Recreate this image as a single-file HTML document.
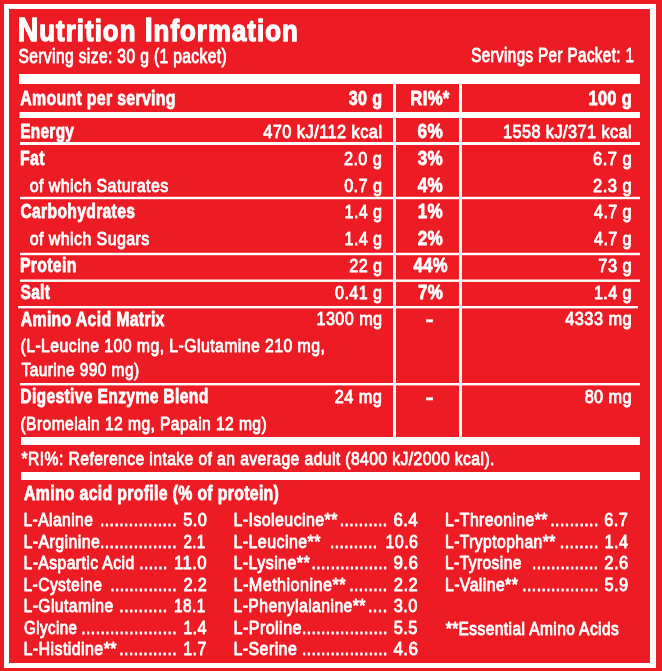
<!DOCTYPE html>
<html><head><meta charset="utf-8"><title>Nutrition Information</title>
<style>
html,body{margin:0;padding:0;background:#ED1C24;}
svg{display:block;font-family:'Liberation Sans', Arial, sans-serif;}
</style></head><body>
<svg width="662" height="671" viewBox="0 0 662 671" fill="#fff">
<rect x="0" y="0" width="662" height="671" fill="#ED1C24"/>
<rect x="4" y="4" width="652" height="5"/>
<rect x="4" y="663" width="652" height="5"/>
<rect x="4" y="4" width="5" height="664"/>
<rect x="650" y="4" width="6" height="664"/>
<rect x="19" y="74" width="621" height="10"/>
<rect x="19.5" y="112" width="620.5" height="6"/>
<rect x="20" y="142" width="620" height="3"/>
<rect x="20" y="196.8" width="620" height="2.4"/>
<rect x="20" y="252.8" width="620" height="2.4"/>
<rect x="20" y="279.5" width="620" height="2.4"/>
<rect x="18" y="306" width="620" height="2.4"/>
<rect x="20" y="383" width="620" height="2.4"/>
<rect x="393" y="84" width="3" height="353"/>
<rect x="459" y="84" width="3" height="353"/>
<rect x="21" y="437" width="619" height="8"/>
<rect x="21" y="472" width="619" height="8"/>
<text x="17.75" y="41.2" font-size="30.2" font-weight="bold" stroke="#fff" stroke-width="1.4" stroke-linejoin="round" textLength="281.02" lengthAdjust="spacingAndGlyphs" style="letter-spacing:1.2px" xml:space="preserve"><tspan font-size="33.2">N</tspan>utrition <tspan font-size="33.2">I</tspan>nformation</text>
<text x="18.50" y="62.55" font-size="19.36" stroke="#fff" stroke-width="0.9" stroke-linejoin="round" textLength="208.48" lengthAdjust="spacingAndGlyphs" style="letter-spacing:0.5px" xml:space="preserve">Serving size: 30 g (1 packet)</text>
<text x="471.25" y="62.05" font-size="19.36" stroke="#fff" stroke-width="0.9" stroke-linejoin="round" textLength="163.12" lengthAdjust="spacingAndGlyphs" style="letter-spacing:0.5px" xml:space="preserve">Servings Per Packet: 1</text>
<text x="20.20" y="104.5" font-size="20.3" font-weight="bold" stroke="#fff" stroke-width="0.8" stroke-linejoin="round" textLength="155.70" lengthAdjust="spacingAndGlyphs" style="letter-spacing:0.4px" xml:space="preserve">Amount per serving</text>
<text x="348.80" y="104.5" font-size="20.3" font-weight="bold" stroke="#fff" stroke-width="0.8" stroke-linejoin="round" textLength="33.59" lengthAdjust="spacingAndGlyphs" style="letter-spacing:0.4px" xml:space="preserve">30 g</text>
<text x="410.26" y="104.5" font-size="20.3" font-weight="bold" stroke="#fff" stroke-width="0.8" stroke-linejoin="round" textLength="39.47" lengthAdjust="spacingAndGlyphs" style="letter-spacing:0.4px" xml:space="preserve">RI%*</text>
<text x="588.45" y="104.5" font-size="20.3" font-weight="bold" stroke="#fff" stroke-width="0.8" stroke-linejoin="round" textLength="43.57" lengthAdjust="spacingAndGlyphs" style="letter-spacing:0.4px" xml:space="preserve">100 g</text>
<text x="20.25" y="137.6" font-size="20.3" font-weight="bold" stroke="#fff" stroke-width="0.8" stroke-linejoin="round" textLength="53.97" lengthAdjust="spacingAndGlyphs" style="letter-spacing:0.4px" xml:space="preserve">Energy</text>
<text x="263.20" y="137.55" font-size="19.07" stroke="#fff" stroke-width="0.9" stroke-linejoin="round" textLength="119.32" lengthAdjust="spacingAndGlyphs" style="letter-spacing:0.5px" xml:space="preserve">470 kJ/112 kcal</text>
<text x="417.55" y="137.6" font-size="20.3" font-weight="bold" stroke="#fff" stroke-width="0.8" stroke-linejoin="round" textLength="25.54" lengthAdjust="spacingAndGlyphs" style="letter-spacing:0.4px" xml:space="preserve">6%</text>
<text x="502.95" y="137.55" font-size="19.07" stroke="#fff" stroke-width="0.9" stroke-linejoin="round" textLength="129.13" lengthAdjust="spacingAndGlyphs" style="letter-spacing:0.5px" xml:space="preserve">1558 kJ/371 kcal</text>
<text x="19.96" y="164.8" font-size="20.3" font-weight="bold" stroke="#fff" stroke-width="0.8" stroke-linejoin="round" textLength="24.82" lengthAdjust="spacingAndGlyphs" style="letter-spacing:0.4px" xml:space="preserve">Fat</text>
<text x="343.90" y="164.75" font-size="19.07" stroke="#fff" stroke-width="0.9" stroke-linejoin="round" textLength="38.47" lengthAdjust="spacingAndGlyphs" style="letter-spacing:0.5px" xml:space="preserve">2.0 g</text>
<text x="417.80" y="164.8" font-size="20.3" font-weight="bold" stroke="#fff" stroke-width="0.8" stroke-linejoin="round" textLength="25.32" lengthAdjust="spacingAndGlyphs" style="letter-spacing:0.4px" xml:space="preserve">3%</text>
<text x="593.10" y="164.75" font-size="19.07" stroke="#fff" stroke-width="0.9" stroke-linejoin="round" textLength="39.02" lengthAdjust="spacingAndGlyphs" style="letter-spacing:0.5px" xml:space="preserve">6.7 g</text>
<text x="29.75" y="191.55" font-size="19.07" stroke="#fff" stroke-width="0.9" stroke-linejoin="round" textLength="138.90" lengthAdjust="spacingAndGlyphs" style="letter-spacing:0.5px" xml:space="preserve">of which Saturates</text>
<text x="344.15" y="191.55" font-size="19.07" stroke="#fff" stroke-width="0.9" stroke-linejoin="round" textLength="38.24" lengthAdjust="spacingAndGlyphs" style="letter-spacing:0.5px" xml:space="preserve">0.7 g</text>
<text x="417.80" y="191.6" font-size="20.3" font-weight="bold" stroke="#fff" stroke-width="0.8" stroke-linejoin="round" textLength="25.32" lengthAdjust="spacingAndGlyphs" style="letter-spacing:0.4px" xml:space="preserve">4%</text>
<text x="593.10" y="191.55" font-size="19.07" stroke="#fff" stroke-width="0.9" stroke-linejoin="round" textLength="39.02" lengthAdjust="spacingAndGlyphs" style="letter-spacing:0.5px" xml:space="preserve">2.3 g</text>
<text x="20.45" y="218.4" font-size="20.3" font-weight="bold" stroke="#fff" stroke-width="0.8" stroke-linejoin="round" textLength="114.79" lengthAdjust="spacingAndGlyphs" style="letter-spacing:0.4px" xml:space="preserve">Carbohydrates</text>
<text x="344.55" y="218.35" font-size="19.07" stroke="#fff" stroke-width="0.9" stroke-linejoin="round" textLength="37.82" lengthAdjust="spacingAndGlyphs" style="letter-spacing:0.5px" xml:space="preserve">1.4 g</text>
<text x="417.75" y="218.4" font-size="20.3" font-weight="bold" stroke="#fff" stroke-width="0.8" stroke-linejoin="round" textLength="25.30" lengthAdjust="spacingAndGlyphs" style="letter-spacing:0.4px" xml:space="preserve">1%</text>
<text x="594.00" y="218.35" font-size="19.07" stroke="#fff" stroke-width="0.9" stroke-linejoin="round" textLength="38.03" lengthAdjust="spacingAndGlyphs" style="letter-spacing:0.5px" xml:space="preserve">4.7 g</text>
<text x="29.75" y="245.15" font-size="19.07" stroke="#fff" stroke-width="0.9" stroke-linejoin="round" textLength="119.94" lengthAdjust="spacingAndGlyphs" style="letter-spacing:0.5px" xml:space="preserve">of which Sugars</text>
<text x="344.55" y="245.15" font-size="19.07" stroke="#fff" stroke-width="0.9" stroke-linejoin="round" textLength="37.82" lengthAdjust="spacingAndGlyphs" style="letter-spacing:0.5px" xml:space="preserve">1.4 g</text>
<text x="417.75" y="245.2" font-size="20.3" font-weight="bold" stroke="#fff" stroke-width="0.8" stroke-linejoin="round" textLength="25.39" lengthAdjust="spacingAndGlyphs" style="letter-spacing:0.4px" xml:space="preserve">2%</text>
<text x="594.00" y="245.15" font-size="19.07" stroke="#fff" stroke-width="0.9" stroke-linejoin="round" textLength="38.03" lengthAdjust="spacingAndGlyphs" style="letter-spacing:0.5px" xml:space="preserve">4.7 g</text>
<text x="19.95" y="272.3" font-size="20.3" font-weight="bold" stroke="#fff" stroke-width="0.8" stroke-linejoin="round" textLength="56.69" lengthAdjust="spacingAndGlyphs" style="letter-spacing:0.4px" xml:space="preserve">Protein</text>
<text x="349.30" y="272.25" font-size="19.07" stroke="#fff" stroke-width="0.9" stroke-linejoin="round" textLength="33.07" lengthAdjust="spacingAndGlyphs" style="letter-spacing:0.5px" xml:space="preserve">22 g</text>
<text x="413.60" y="272.3" font-size="20.3" font-weight="bold" stroke="#fff" stroke-width="0.8" stroke-linejoin="round" textLength="34.25" lengthAdjust="spacingAndGlyphs" style="letter-spacing:0.4px" xml:space="preserve">44%</text>
<text x="598.30" y="272.25" font-size="19.07" stroke="#fff" stroke-width="0.9" stroke-linejoin="round" textLength="33.81" lengthAdjust="spacingAndGlyphs" style="letter-spacing:0.5px" xml:space="preserve">73 g</text>
<text x="20.45" y="299.3" font-size="20.3" font-weight="bold" stroke="#fff" stroke-width="0.8" stroke-linejoin="round" textLength="29.77" lengthAdjust="spacingAndGlyphs" style="letter-spacing:0.4px" xml:space="preserve">Salt</text>
<text x="335.05" y="299.25" font-size="19.07" stroke="#fff" stroke-width="0.9" stroke-linejoin="round" textLength="47.27" lengthAdjust="spacingAndGlyphs" style="letter-spacing:0.5px" xml:space="preserve">0.41 g</text>
<text x="418.10" y="299.3" font-size="20.3" font-weight="bold" stroke="#fff" stroke-width="0.8" stroke-linejoin="round" textLength="25.14" lengthAdjust="spacingAndGlyphs" style="letter-spacing:0.4px" xml:space="preserve">7%</text>
<text x="593.95" y="299.25" font-size="19.07" stroke="#fff" stroke-width="0.9" stroke-linejoin="round" textLength="37.97" lengthAdjust="spacingAndGlyphs" style="letter-spacing:0.5px" xml:space="preserve">1.4 g</text>
<text x="20.70" y="325.5" font-size="20.3" font-weight="bold" stroke="#fff" stroke-width="0.8" stroke-linejoin="round" textLength="144.07" lengthAdjust="spacingAndGlyphs" style="letter-spacing:0.4px" xml:space="preserve">Amino Acid Matrix</text>
<text x="316.45" y="325.45" font-size="19.07" stroke="#fff" stroke-width="0.9" stroke-linejoin="round" textLength="66.06" lengthAdjust="spacingAndGlyphs" style="letter-spacing:0.5px" xml:space="preserve">1300 mg</text>
<text x="425.25" y="325.66" font-size="20.3" font-weight="bold" stroke="#fff" stroke-width="0.3" stroke-linejoin="round" textLength="9.01" lengthAdjust="spacingAndGlyphs" style="letter-spacing:0.4px" xml:space="preserve">-</text>
<text x="565.30" y="325.45" font-size="19.07" stroke="#fff" stroke-width="0.9" stroke-linejoin="round" textLength="66.72" lengthAdjust="spacingAndGlyphs" style="letter-spacing:0.5px" xml:space="preserve">4333 mg</text>
<text x="20.25" y="403.4" font-size="20.3" font-weight="bold" stroke="#fff" stroke-width="0.8" stroke-linejoin="round" textLength="188.28" lengthAdjust="spacingAndGlyphs" style="letter-spacing:0.4px" xml:space="preserve">Digestive Enzyme Blend</text>
<text x="334.80" y="403.35" font-size="19.07" stroke="#fff" stroke-width="0.9" stroke-linejoin="round" textLength="47.48" lengthAdjust="spacingAndGlyphs" style="letter-spacing:0.5px" xml:space="preserve">24 mg</text>
<text x="425.25" y="403.56" font-size="20.3" font-weight="bold" stroke="#fff" stroke-width="0.3" stroke-linejoin="round" textLength="9.01" lengthAdjust="spacingAndGlyphs" style="letter-spacing:0.4px" xml:space="preserve">-</text>
<text x="584.65" y="403.35" font-size="19.07" stroke="#fff" stroke-width="0.9" stroke-linejoin="round" textLength="47.26" lengthAdjust="spacingAndGlyphs" style="letter-spacing:0.5px" xml:space="preserve">80 mg</text>
<text x="20.50" y="352.35" font-size="19.07" stroke="#fff" stroke-width="0.9" stroke-linejoin="round" textLength="304.72" lengthAdjust="spacingAndGlyphs" style="letter-spacing:0.5px" xml:space="preserve">(L-Leucine 100 mg, L-Glutamine 210 mg,</text>
<text x="21.50" y="375.75" font-size="19.07" stroke="#fff" stroke-width="0.9" stroke-linejoin="round" textLength="117.96" lengthAdjust="spacingAndGlyphs" style="letter-spacing:0.5px" xml:space="preserve">Taurine 990 mg)</text>
<text x="20.50" y="429.75" font-size="19.07" stroke="#fff" stroke-width="0.9" stroke-linejoin="round" textLength="246.56" lengthAdjust="spacingAndGlyphs" style="letter-spacing:0.5px" xml:space="preserve">(Bromelain 12 mg, Papain 12 mg)</text>
<text x="21.60" y="465.05" font-size="19.07" stroke="#fff" stroke-width="0.9" stroke-linejoin="round" textLength="473.22" lengthAdjust="spacingAndGlyphs" style="letter-spacing:0.5px" xml:space="preserve">*RI%: Reference intake of an average adult (8400 kJ/2000 kcal).</text>
<text x="24.00" y="499.9" font-size="19.5" font-weight="bold" stroke="#fff" stroke-width="0.8" stroke-linejoin="round" textLength="255.21" lengthAdjust="spacingAndGlyphs" style="letter-spacing:0.4px" xml:space="preserve">Amino acid profile (% of protein)</text>
<text x="23.50" y="525.95" font-size="18.77" stroke="#fff" stroke-width="0.9" stroke-linejoin="round" textLength="69.74" lengthAdjust="spacingAndGlyphs" style="letter-spacing:0.5px" xml:space="preserve">L-Alanine</text>
<text x="100.00" y="525.95" font-size="18.77" stroke="#fff" stroke-width="0.9" stroke-linejoin="round" textLength="76.96" lengthAdjust="spacingAndGlyphs" style="letter-spacing:0.5px" xml:space="preserve">................</text>
<text x="183.15" y="525.95" font-size="18.77" stroke="#fff" stroke-width="0.9" stroke-linejoin="round" textLength="24.15" lengthAdjust="spacingAndGlyphs" style="letter-spacing:0.5px" xml:space="preserve">5.0</text>
<text x="23.50" y="547.5" font-size="18.77" stroke="#fff" stroke-width="0.9" stroke-linejoin="round" textLength="76.92" lengthAdjust="spacingAndGlyphs" style="letter-spacing:0.5px" xml:space="preserve">L-Arginine</text>
<text x="100.00" y="547.5" font-size="18.77" stroke="#fff" stroke-width="0.9" stroke-linejoin="round" textLength="76.96" lengthAdjust="spacingAndGlyphs" style="letter-spacing:0.5px" xml:space="preserve">................</text>
<text x="183.40" y="547.5" font-size="18.77" stroke="#fff" stroke-width="0.9" stroke-linejoin="round" textLength="22.29" lengthAdjust="spacingAndGlyphs" style="letter-spacing:0.5px" xml:space="preserve">2.1</text>
<text x="23.50" y="569.05" font-size="18.77" stroke="#fff" stroke-width="0.9" stroke-linejoin="round" textLength="111.05" lengthAdjust="spacingAndGlyphs" style="letter-spacing:0.5px" xml:space="preserve">L-Aspartic Acid</text>
<text x="139.30" y="569.05" font-size="18.77" stroke="#fff" stroke-width="0.9" stroke-linejoin="round" textLength="28.37" lengthAdjust="spacingAndGlyphs" style="letter-spacing:0.5px" xml:space="preserve">......</text>
<text x="174.07" y="569.05" font-size="18.77" stroke="#fff" stroke-width="0.9" stroke-linejoin="round" textLength="33.05" lengthAdjust="spacingAndGlyphs" style="letter-spacing:0.5px" xml:space="preserve">11.0</text>
<text x="23.50" y="590.6" font-size="18.77" stroke="#fff" stroke-width="0.9" stroke-linejoin="round" textLength="78.77" lengthAdjust="spacingAndGlyphs" style="letter-spacing:0.5px" xml:space="preserve">L-Cysteine</text>
<text x="110.30" y="590.6" font-size="18.77" stroke="#fff" stroke-width="0.9" stroke-linejoin="round" textLength="66.65" lengthAdjust="spacingAndGlyphs" style="letter-spacing:0.5px" xml:space="preserve">..............</text>
<text x="183.40" y="590.6" font-size="18.77" stroke="#fff" stroke-width="0.9" stroke-linejoin="round" textLength="23.82" lengthAdjust="spacingAndGlyphs" style="letter-spacing:0.5px" xml:space="preserve">2.2</text>
<text x="23.50" y="612.15" font-size="18.77" stroke="#fff" stroke-width="0.9" stroke-linejoin="round" textLength="90.15" lengthAdjust="spacingAndGlyphs" style="letter-spacing:0.5px" xml:space="preserve">L-Glutamine</text>
<text x="119.30" y="612.15" font-size="18.77" stroke="#fff" stroke-width="0.9" stroke-linejoin="round" textLength="48.29" lengthAdjust="spacingAndGlyphs" style="letter-spacing:0.5px" xml:space="preserve">..........</text>
<text x="174.06" y="612.15" font-size="18.77" stroke="#fff" stroke-width="0.9" stroke-linejoin="round" textLength="31.61" lengthAdjust="spacingAndGlyphs" style="letter-spacing:0.5px" xml:space="preserve">18.1</text>
<text x="24.00" y="633.7" font-size="18.77" stroke="#fff" stroke-width="0.9" stroke-linejoin="round" textLength="53.42" lengthAdjust="spacingAndGlyphs" style="letter-spacing:0.5px" xml:space="preserve">Glycine</text>
<text x="81.30" y="633.7" font-size="18.77" stroke="#fff" stroke-width="0.9" stroke-linejoin="round" textLength="95.69" lengthAdjust="spacingAndGlyphs" style="letter-spacing:0.5px" xml:space="preserve">....................</text>
<text x="183.16" y="633.7" font-size="18.77" stroke="#fff" stroke-width="0.9" stroke-linejoin="round" textLength="23.82" lengthAdjust="spacingAndGlyphs" style="letter-spacing:0.5px" xml:space="preserve">1.4</text>
<text x="23.50" y="655.25" font-size="18.77" stroke="#fff" stroke-width="0.9" stroke-linejoin="round" textLength="93.48" lengthAdjust="spacingAndGlyphs" style="letter-spacing:0.5px" xml:space="preserve">L-Histidine**</text>
<text x="119.30" y="655.25" font-size="18.77" stroke="#fff" stroke-width="0.9" stroke-linejoin="round" textLength="57.74" lengthAdjust="spacingAndGlyphs" style="letter-spacing:0.5px" xml:space="preserve">............</text>
<text x="183.16" y="655.25" font-size="18.77" stroke="#fff" stroke-width="0.9" stroke-linejoin="round" textLength="23.59" lengthAdjust="spacingAndGlyphs" style="letter-spacing:0.5px" xml:space="preserve">1.7</text>
<text x="233.50" y="525.95" font-size="18.77" stroke="#fff" stroke-width="0.9" stroke-linejoin="round" textLength="104.35" lengthAdjust="spacingAndGlyphs" style="letter-spacing:0.5px" xml:space="preserve">L-Isoleucine**</text>
<text x="339.70" y="525.95" font-size="18.77" stroke="#fff" stroke-width="0.9" stroke-linejoin="round" textLength="47.92" lengthAdjust="spacingAndGlyphs" style="letter-spacing:0.5px" xml:space="preserve">..........</text>
<text x="393.40" y="525.95" font-size="18.77" stroke="#fff" stroke-width="0.9" stroke-linejoin="round" textLength="24.83" lengthAdjust="spacingAndGlyphs" style="letter-spacing:0.5px" xml:space="preserve">6.4</text>
<text x="233.50" y="547.5" font-size="18.77" stroke="#fff" stroke-width="0.9" stroke-linejoin="round" textLength="87.29" lengthAdjust="spacingAndGlyphs" style="letter-spacing:0.5px" xml:space="preserve">L-Leucine**</text>
<text x="330.00" y="547.5" font-size="18.77" stroke="#fff" stroke-width="0.9" stroke-linejoin="round" textLength="47.56" lengthAdjust="spacingAndGlyphs" style="letter-spacing:0.5px" xml:space="preserve">..........</text>
<text x="385.45" y="547.5" font-size="18.77" stroke="#fff" stroke-width="0.9" stroke-linejoin="round" textLength="33.03" lengthAdjust="spacingAndGlyphs" style="letter-spacing:0.5px" xml:space="preserve">10.6</text>
<text x="233.50" y="569.05" font-size="18.77" stroke="#fff" stroke-width="0.9" stroke-linejoin="round" textLength="76.54" lengthAdjust="spacingAndGlyphs" style="letter-spacing:0.5px" xml:space="preserve">L-Lysine**</text>
<text x="311.60" y="569.05" font-size="18.77" stroke="#fff" stroke-width="0.9" stroke-linejoin="round" textLength="76.13" lengthAdjust="spacingAndGlyphs" style="letter-spacing:0.5px" xml:space="preserve">................</text>
<text x="393.40" y="569.05" font-size="18.77" stroke="#fff" stroke-width="0.9" stroke-linejoin="round" textLength="25.07" lengthAdjust="spacingAndGlyphs" style="letter-spacing:0.5px" xml:space="preserve">9.6</text>
<text x="233.50" y="590.6" font-size="18.77" stroke="#fff" stroke-width="0.9" stroke-linejoin="round" textLength="112.42" lengthAdjust="spacingAndGlyphs" style="letter-spacing:0.5px" xml:space="preserve">L-Methionine**</text>
<text x="349.30" y="590.6" font-size="18.77" stroke="#fff" stroke-width="0.9" stroke-linejoin="round" textLength="38.28" lengthAdjust="spacingAndGlyphs" style="letter-spacing:0.5px" xml:space="preserve">........</text>
<text x="393.80" y="590.6" font-size="18.77" stroke="#fff" stroke-width="0.9" stroke-linejoin="round" textLength="24.19" lengthAdjust="spacingAndGlyphs" style="letter-spacing:0.5px" xml:space="preserve">2.2</text>
<text x="233.50" y="612.15" font-size="18.77" stroke="#fff" stroke-width="0.9" stroke-linejoin="round" textLength="132.37" lengthAdjust="spacingAndGlyphs" style="letter-spacing:0.5px" xml:space="preserve">L-Phenylalanine**</text>
<text x="367.92" y="612.15" font-size="18.77" stroke="#fff" stroke-width="0.9" stroke-linejoin="round" textLength="19.77" lengthAdjust="spacingAndGlyphs" style="letter-spacing:0.5px" xml:space="preserve">....</text>
<text x="393.75" y="612.15" font-size="18.77" stroke="#fff" stroke-width="0.9" stroke-linejoin="round" textLength="24.10" lengthAdjust="spacingAndGlyphs" style="letter-spacing:0.5px" xml:space="preserve">3.0</text>
<text x="233.50" y="633.7" font-size="18.77" stroke="#fff" stroke-width="0.9" stroke-linejoin="round" textLength="68.45" lengthAdjust="spacingAndGlyphs" style="letter-spacing:0.5px" xml:space="preserve">L-Proline</text>
<text x="302.00" y="633.7" font-size="18.77" stroke="#fff" stroke-width="0.9" stroke-linejoin="round" textLength="85.74" lengthAdjust="spacingAndGlyphs" style="letter-spacing:0.5px" xml:space="preserve">..................</text>
<text x="393.75" y="633.7" font-size="18.77" stroke="#fff" stroke-width="0.9" stroke-linejoin="round" textLength="24.10" lengthAdjust="spacingAndGlyphs" style="letter-spacing:0.5px" xml:space="preserve">5.5</text>
<text x="233.50" y="655.25" font-size="18.77" stroke="#fff" stroke-width="0.9" stroke-linejoin="round" textLength="63.69" lengthAdjust="spacingAndGlyphs" style="letter-spacing:0.5px" xml:space="preserve">L-Serine</text>
<text x="302.00" y="655.25" font-size="18.77" stroke="#fff" stroke-width="0.9" stroke-linejoin="round" textLength="85.74" lengthAdjust="spacingAndGlyphs" style="letter-spacing:0.5px" xml:space="preserve">..................</text>
<text x="393.40" y="655.25" font-size="18.77" stroke="#fff" stroke-width="0.9" stroke-linejoin="round" textLength="25.12" lengthAdjust="spacingAndGlyphs" style="letter-spacing:0.5px" xml:space="preserve">4.6</text>
<text x="445.00" y="525.95" font-size="18.77" stroke="#fff" stroke-width="0.9" stroke-linejoin="round" textLength="102.79" lengthAdjust="spacingAndGlyphs" style="letter-spacing:0.5px" xml:space="preserve">L-Threonine**</text>
<text x="550.20" y="525.95" font-size="18.77" stroke="#fff" stroke-width="0.9" stroke-linejoin="round" textLength="48.66" lengthAdjust="spacingAndGlyphs" style="letter-spacing:0.5px" xml:space="preserve">..........</text>
<text x="604.30" y="525.95" font-size="18.77" stroke="#fff" stroke-width="0.9" stroke-linejoin="round" textLength="24.04" lengthAdjust="spacingAndGlyphs" style="letter-spacing:0.5px" xml:space="preserve">6.7</text>
<text x="445.00" y="547.5" font-size="18.77" stroke="#fff" stroke-width="0.9" stroke-linejoin="round" textLength="110.82" lengthAdjust="spacingAndGlyphs" style="letter-spacing:0.5px" xml:space="preserve">L-Tryptophan**</text>
<text x="559.80" y="547.5" font-size="18.77" stroke="#fff" stroke-width="0.9" stroke-linejoin="round" textLength="39.03" lengthAdjust="spacingAndGlyphs" style="letter-spacing:0.5px" xml:space="preserve">........</text>
<text x="604.45" y="547.5" font-size="18.77" stroke="#fff" stroke-width="0.9" stroke-linejoin="round" textLength="24.04" lengthAdjust="spacingAndGlyphs" style="letter-spacing:0.5px" xml:space="preserve">1.4</text>
<text x="445.00" y="569.05" font-size="18.77" stroke="#fff" stroke-width="0.9" stroke-linejoin="round" textLength="76.79" lengthAdjust="spacingAndGlyphs" style="letter-spacing:0.5px" xml:space="preserve">L-Tyrosine</text>
<text x="532.00" y="569.05" font-size="18.77" stroke="#fff" stroke-width="0.9" stroke-linejoin="round" textLength="66.59" lengthAdjust="spacingAndGlyphs" style="letter-spacing:0.5px" xml:space="preserve">..............</text>
<text x="604.30" y="569.05" font-size="18.77" stroke="#fff" stroke-width="0.9" stroke-linejoin="round" textLength="24.38" lengthAdjust="spacingAndGlyphs" style="letter-spacing:0.5px" xml:space="preserve">2.6</text>
<text x="445.00" y="590.6" font-size="18.77" stroke="#fff" stroke-width="0.9" stroke-linejoin="round" textLength="73.21" lengthAdjust="spacingAndGlyphs" style="letter-spacing:0.5px" xml:space="preserve">L-Valine**</text>
<text x="522.30" y="590.6" font-size="18.77" stroke="#fff" stroke-width="0.9" stroke-linejoin="round" textLength="76.44" lengthAdjust="spacingAndGlyphs" style="letter-spacing:0.5px" xml:space="preserve">................</text>
<text x="604.55" y="590.6" font-size="18.77" stroke="#fff" stroke-width="0.9" stroke-linejoin="round" textLength="24.15" lengthAdjust="spacingAndGlyphs" style="letter-spacing:0.5px" xml:space="preserve">5.9</text>
<text x="445.70" y="634.95" font-size="18.77" stroke="#fff" stroke-width="0.9" stroke-linejoin="round" textLength="173.46" lengthAdjust="spacingAndGlyphs" style="letter-spacing:0.5px" xml:space="preserve">**Essential Amino Acids</text>
</svg>
</body></html>
